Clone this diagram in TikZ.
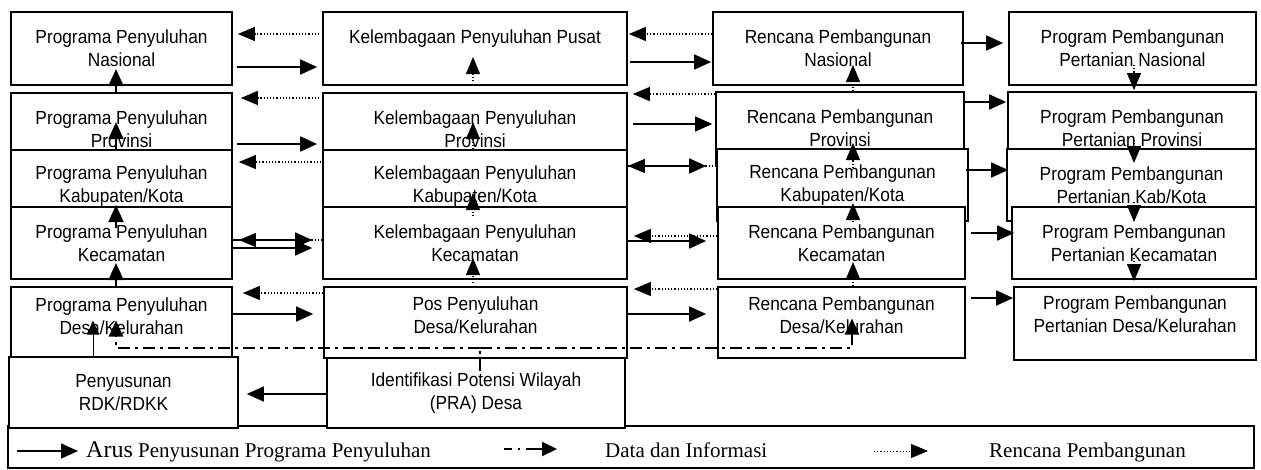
\documentclass[tikz,border=0pt]{standalone}
\usepackage{fontspec}
\setmainfont{Liberation Sans}[FakeStretch=0.91]
\newfontfamily\legfont{Liberation Serif}
\usetikzlibrary{positioning}
\usetikzlibrary{calc}
\usetikzlibrary{arrows.meta}

\begin{document}
\begin{tikzpicture}[x=1pt, y=-1pt]
% -------------------------------------------------
\tikzset{
  kotak/.style={draw, line width=1.7pt, fill=white, align=center, inner sep=0pt, font=\fontsize{19}{23}\selectfont},
  maju/.style={draw, line width=1.8pt, -{Triangle[length=17pt,width=15pt]}},
  balik/.style={draw, line width=1.2pt, dash pattern=on 1.2pt off 2pt, -{Triangle[length=17pt,width=14pt]}},
  data/.style={draw, line width=2.4pt, dash pattern=on 12pt off 5pt on 3pt off 5pt},
  tipis/.style={draw, line width=0.9pt, -{Triangle[length=14pt,width=12pt]}},
  ket/.style={anchor=base west, inner sep=0pt, font=\legfont\fontsize{21}{24}\selectfont}
}
% -------------------------------------------------
\useasboundingbox (0,0) rectangle (1261,469);
\fill[white] (0,0) rectangle (1261,469);

% Legend box
\node[draw, line width=1.3pt, minimum width=1246pt, minimum height=42pt, inner sep=0pt] (legenda) at (631,447) {};

% Placing the nodes
% Programa Penyuluhan
\node[kotak, minimum width=221pt, minimum height=73pt] (pp1) at (121.5,48.5) {Programa Penyuluhan\\Nasional};
\node[kotak, minimum width=221pt, minimum height=73pt] (pp2) at (121.5,129.5) {Programa Penyuluhan\\Provinsi};
\node[kotak, minimum width=221pt, minimum height=73pt] (pp3) at (121.5,186.5) {Programa Penyuluhan\\Kabupaten/Kota};
\node[kotak, minimum width=221pt, minimum height=72pt] (pp4) at (121.5,243) {Programa Penyuluhan\\Kecamatan};
\node[kotak, minimum width=221pt, minimum height=73pt] (pp5) at (121.5,323.5) {Programa Penyuluhan\\Desa/Kelurahan\\[-8pt]\mbox{}};
\node[kotak, minimum width=229pt, minimum height=71pt] (rdk) at (123.5,392.5) {Penyusunan\\RDK/RDKK};

% Kelembagaan Penyuluhan
\node[kotak, minimum width=304pt, minimum height=73pt] (kp1) at (475,48.5) {Kelembagaan Penyuluhan Pusat\\\mbox{}};
\node[kotak, minimum width=304pt, minimum height=73pt] (kp2) at (475,129.5) {Kelembagaan Penyuluhan\\Provinsi};
\node[kotak, minimum width=304pt, minimum height=73pt] (kp3) at (475,186.5) {Kelembagaan Penyuluhan\\Kabupaten/Kota};
\node[kotak, minimum width=304pt, minimum height=72pt] (kp4) at (475,243) {Kelembagaan Penyuluhan\\Kecamatan};
\node[kotak, minimum width=303pt, minimum height=71pt] (kp5) at (475.5,322.5) {Pos Penyuluhan\\Desa/Kelurahan\\[-8pt]\mbox{}};
\node[kotak, minimum width=298pt, minimum height=70pt] (pra) at (476,393) {Identifikasi Potensi Wilayah\\(PRA) Desa};

% Rencana Pembangunan
\node[kotak, minimum width=250pt, minimum height=73pt] (rp1) at (838,48.5) {Rencana Pembangunan\\Nasional};
\node[kotak, minimum width=248pt, minimum height=73pt] (rp2) at (840,128.5) {Rencana Pembangunan\\Provinsi};
\node[kotak, minimum width=251pt, minimum height=72pt] (rp3) at (842.5,185) {Rencana Pembangunan\\Kabupaten/Kota};
\node[kotak, minimum width=247pt, minimum height=72pt] (rp4) at (841.5,243) {Rencana Pembangunan\\Kecamatan};
\node[kotak, minimum width=247pt, minimum height=71pt] (rp5) at (841.5,322.5) {Rencana Pembangunan\\Desa/Kelurahan\\[-8pt]\mbox{}};

% Program Pembangunan Pertanian
\node[kotak, minimum width=247pt, minimum height=73pt] (pb1) at (1132.5,48.5) {Program Pembangunan\\Pertanian Nasional};
\node[kotak, minimum width=248pt, minimum height=73pt] (pb2) at (1132,128.5) {Program Pembangunan\\Pertanian Provinsi};
\node[kotak, minimum width=249pt, minimum height=72pt] (pb3) at (1131.5,185) {Program Pembangunan\\Pertanian Kab/Kota};
\node[kotak, minimum width=244pt, minimum height=72pt] (pb4) at (1134,243) {Program Pembangunan\\Pertanian Kecamatan};
\node[kotak, minimum width=242pt, minimum height=73pt] (pb5) at (1135,323.5) {Program Pembangunan\\Pertanian Desa/Kelurahan\\[-4pt]\mbox{}};

% Programa <-> Kelembagaan
\path[balik, shorten >=5pt, shorten <=3pt] (kp1.west |- 0,34) -- (pp1.east |- 0,34);
\path[maju, shorten <=4pt, shorten >=5pt] (pp1.east |- 0,67) -- (kp1.west |- 0,67);
\path[balik, shorten >=8pt, shorten <=3pt] (kp2.west |- 0,98) -- (pp2.east |- 0,98);
\path[maju, shorten <=4pt, shorten >=5pt] (pp2.east |- 0,144) -- (kp2.west |- 0,144);
\path[balik, shorten >=6pt, shorten <=1pt] (kp3.west |- 0,162) -- (pp3.east |- 0,162);
\path[balik, shorten >=6pt] (kp4.west |- 0,240) -- (pp4.east |- 0,240);
\path[maju, shorten >=10pt] (pp4.east |- 0,240) -- (kp4.west |- 0,240);
\path[maju, shorten >=10pt] (pp4.east |- 0,248) -- (kp4.west |- 0,248);
\path[balik, shorten >=10pt] (kp5.west |- 0,293) -- (pp5.east |- 0,293);
\path[maju, shorten >=10pt] (pp5.east |- 0,314) -- (kp5.west |- 0,314);

% Kelembagaan <-> Rencana
\path[balik, shorten >=1pt] (rp1.west |- 0,34) -- (kp1.east |- 0,34);
\path[maju, shorten <=2pt, shorten >=1pt] (kp1.east |- 0,62) -- (rp1.west |- 0,62);
\path[balik, shorten >=5pt] (rp2.west |- 0,94) -- (kp2.east |- 0,94);
\path[maju, shorten <=5pt, shorten >=3pt] (kp2.east |- 0,124) -- (rp2.west |- 0,124);
\path[balik] (rp3.west |- 0,166) -- (kp3.east |- 0,166);
\path[maju, shorten >=10pt] (kp3.east |- 0,166) -- (rp3.west |- 0,166);
\path[balik, shorten >=6pt] (rp4.west |- 0,236) -- (kp4.east |- 0,236);
\path[maju, shorten >=11pt] (kp4.east |- 0,241) -- (rp4.west |- 0,241);
\path[balik, shorten >=6pt] (rp5.west |- 0,289) -- (kp5.east |- 0,289);
\path[maju, shorten >=11pt] (kp5.east |- 0,314) -- (rp5.west |- 0,314);

% Rencana -> Program Pembangunan
\path[maju, shorten <=-3pt, shorten >=5pt] (rp1.east |- 0,43) -- (pb1.west |- 0,43);
\path[maju, shorten <=-2pt, shorten >=1pt] (rp2.east |- 0,102) -- (pb2.west |- 0,102);
\path[maju, shorten <=-3pt, shorten >=-2pt] (rp3.east |- 0,170) -- (pb3.west |- 0,170);
\path[maju, shorten <=5pt, shorten >=-3pt] (rp4.east |- 0,233) -- (pb4.west |- 0,233);
\path[maju, shorten <=5pt] (rp5.east |- 0,298) -- (pb5.west |- 0,298);

% naik: Programa Penyuluhan
\path[maju, shorten >=20.5pt] (116,0 |- pp2.north) -- (116,0 |- pp1.center);
\path[maju, shorten >=30pt] (116,0 |- pp3.north) -- (116,0 |- pp2.north);
\path[maju, shorten <=15pt, shorten >=18.5pt] (116,0 |- pp4.center) -- (116,0 |- pp3.center);
\path[maju, shorten >=20pt] (116,0 |- pp5.north) -- (116,0 |- pp4.center);

% naik: Kelembagaan
\path[balik, shorten <=11pt, shorten >=8.5pt] (473,0 |- kp2.north) -- (473,0 |- kp1.center);
\path[balik, shorten >=30pt] (473,0 |- kp3.north) -- (473,0 |- kp2.north);
\path[balik, shorten <=27pt, shorten >=6.5pt] (473,0 |- kp4.center) -- (473,0 |- kp3.center);
\path[balik, shorten <=3pt, shorten >=15pt] (473,0 |- kp5.north) -- (473,0 |- kp4.center);

% naik: Rencana
\path[balik, shorten >=16.5pt] (853,0 |- rp2.north) -- (853,0 |- rp1.center);
\path[balik, shorten <=17pt, shorten >=14.5pt] (853,0 |- rp3.center) -- (853,0 |- rp2.center);
\path[balik, shorten <=21pt, shorten >=18pt] (853,0 |- rp4.center) -- (853,0 |- rp3.center);
\path[balik, shorten >=19pt] (853,0 |- rp5.north) -- (853,0 |- rp4.center);

% turun: Program Pembangunan
\path[balik, shorten <=16.5pt, shorten >=1pt] (1134,0 |- pb1.center) -- (1134,0 |- pb2.north);
\path[balik, shorten <=11.5pt, shorten >=22pt] (1134,0 |- pb2.center) -- (1134,0 |- pb3.center);
\path[balik, shorten <=17pt, shorten >=21pt] (1134,0 |- pb3.center) -- (1134,0 |- pb4.center);
\path[balik, shorten <=15pt, shorten >=5pt] (1134,0 |- pb4.center) -- (1134,0 |- pb5.north);

% data dan informasi
\coordinate (simpul) at (480,348);
\coordinate (dkiri) at (116,348);
\coordinate (dkanan) at (852,348);
\path[data] ($(simpul |- pra.north)+(0,14)$) -- (simpul);
\path[data, -{Triangle[length=16pt,width=14pt]}, shorten >=-3pt] (simpul) -- (dkiri) -- (dkiri |- pp5.center);
\path[data, -{Triangle[length=16pt,width=14pt]}, shorten >=-4pt] (simpul) -- (dkanan) -- (dkanan |- rp5.center);

\path[tipis, shorten >=-3pt] (93,0 |- rdk.north) -- (93,0 |- pp5.center);
\path[maju, shorten >=8pt] (pra.west |- 0,394) -- (rdk.east |- 0,394);

% Legend
\node[ket] (tArus) at (86,457) {{\fontsize{24}{24}\selectfont Arus} Penyusunan Programa Penyuluhan};
\node[ket] (tData) at (605,457) {Data dan Informasi};
\node[ket] (tRencana) at (989,457) {Rencana Pembangunan};
\coordinate (lArus) at (17,451);
\coordinate (lData) at (504,449);
\coordinate (lRencana) at (874,451);
\path[maju, line width=1.4pt, shorten >=8pt] (lArus) -- (lArus -| tArus.west);
\path[data, line width=2pt, dash pattern=on 8pt off 6pt on 2pt off 6pt on 40pt, -{Triangle[length=15pt,width=14pt]}, shorten >=48pt] (lData) -- (lData -| tData.west);
\path[balik, line width=1pt, shorten >=61pt] (lRencana) -- (lRencana -| tRencana.west);

\end{tikzpicture}
\end{document}
